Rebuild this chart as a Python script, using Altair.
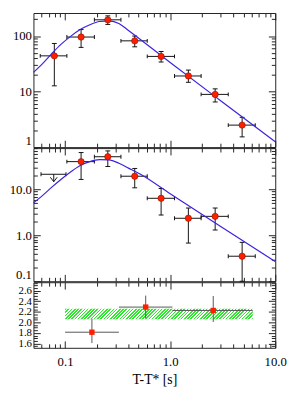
import altair as alt
import pandas as pd

FONT = "Liberation Serif"
W = 247
H_TOP, H_MID, H_BOT = 137, 136, 67
RED = "#ff1e00"
BLUE = "#3a22e0"
GREEN = "#2ee82e"
INK = "#111111"

# ---------------- data ----------------
# time bins (s)
t_mid = [0.079, 0.142, 0.255, 0.46, 0.82, 1.49, 2.68, 4.84]
t_lo = [0.058, 0.104, 0.19, 0.34, 0.605, 1.10, 1.97, 3.57]
t_hi = [0.104, 0.19, 0.34, 0.605, 1.10, 1.97, 3.57, 6.45]

# top panel
top_val = [44, 96, 196, 82, 43, 19.1, 8.9, 2.49]
top_lo = [12.7, 62.5, 162, 64, 34.2, 14.7, 6.5, 1.53]
top_hi = [73.6, 131, 231, 100, 52.5, 24.4, 11.2, 3.44]

# middle panel (first bin is an upper limit)
mid_t = [0.142, 0.255, 0.46, 0.82, 1.49, 2.68, 4.84]
mid_tlo = [0.104, 0.19, 0.34, 0.605, 1.10, 1.97, 3.57]
mid_thi = [0.19, 0.34, 0.605, 1.10, 1.97, 3.57, 6.45]
mid_val = [40.6, 51.9, 19.5, 6.44, 2.36, 2.6, 0.351]
mid_lo = [16.6, 31.8, 10.9, 2.77, 0.68, 1.31, 0.1]
mid_hi = [64, 69.5, 28.8, 10.5, 3.95, 3.95, 0.705]
ul_t = [0.078]
ul_tlo = [0.059]
ul_thi = [0.102]
ul_val = [21.5]
ul_tip = [14.8]

# model curves
curve_t = [0.05, 0.0598, 0.0739, 0.0913, 0.1128, 0.1394, 0.172, 0.213, 0.263,
           0.325, 0.401, 0.517, 1.0, 3.0, 10.0]
curve_top = [22.2, 30.7, 47.2, 70.7, 98.8, 131, 160, 183, 188, 169, 126, 87.5,
             33.5, 6.93, 1.25]
curve_mid = [5.15, 7.1, 11.0, 16.6, 24.1, 33.4, 40.6, 44.8, 44.2, 37.4, 29.3,
             21.7, 8.07, 1.58, 0.27]

# bottom panel
bot_t = [0.18, 0.585, 2.57]
bot_tlo = [0.1, 0.325, 1.05]
bot_thi = [0.325, 1.05, 6.1]
bot_val = [1.815, 2.29, 2.226]
bot_lo = [1.61, 2.084, 2.009]
bot_hi = [2.07, 2.507, 2.5]
band_t = [0.1]
band_t2 = [6.1]
band_lo = [2.06]
band_hi = [2.26]

# axis tick values / labels
x_ticks = [0.06, 0.07, 0.08, 0.09, 0.1, 0.2, 0.3, 0.4, 0.5, 0.6, 0.7, 0.8, 0.9,
           1, 2, 3, 4, 5, 6, 7, 8, 9, 10]
x_major = [0.1, 1, 10]
top_ticks = [1, 2, 3, 4, 5, 6, 7, 8, 9, 10, 20, 30, 40, 50, 60, 70, 80, 90, 100, 200]
top_major = [1, 10, 100]
mid_ticks = [0.1, 0.2, 0.3, 0.4, 0.5, 0.6, 0.7, 0.8, 0.9, 1, 2, 3, 4, 5, 6, 7, 8, 9,
             10, 20, 30, 40, 50, 60, 70, 80]
mid_major = [0.1, 1, 10]
bot_ticks = [1.55, 1.6, 1.65, 1.7, 1.75, 1.8, 1.85, 1.9, 1.95, 2.0, 2.05, 2.1, 2.15,
             2.2, 2.25, 2.3, 2.35, 2.4, 2.45, 2.5, 2.55, 2.6, 2.65, 2.7, 2.75]
bot_major = [1.6, 1.8, 2.0, 2.2, 2.4, 2.6]

# ---------------- helpers ----------------
xs = alt.Scale(type="log", domain=[0.05, 10], nice=False)


def X(field, axis=None):
    return alt.X(field, type="quantitative", scale=xs, axis=axis)


def make_Y(scale):
    def Y(field, axis=None):
        return alt.Y(field, type="quantitative", scale=scale, axis=axis)
    return Y


def tsize(majors, big=7, small=4):
    return {"condition": {"test": f"indexof({majors}, datum.value) >= 0", "value": big},
            "value": small}


def tick_axis(orient, offset, values, majors):
    return alt.Axis(orient=orient, offset=offset, values=values, labels=False,
                    domain=False, grid=False, ticks=True, tickSize=tsize(majors),
                    tickColor="#222222", tickWidth=1, title=None)


def ylabel_axis(values, fmt, size=13):
    return alt.Axis(orient="left", values=values, format=fmt, ticks=False,
                    domain=False, grid=False, labelPadding=2, labelFont=FONT,
                    labelFontSize=size, labelColor="black", labelFlush=True,
                    labelFlushOffset=0, labelOverlap=False, title=None)


def errbars(df, Y, color=INK, caps=True, xb=None, yl=None, xt=None, yr=None):
    base = alt.Chart(df)
    layers = [
        base.mark_rule(color=color, strokeWidth=1).encode(
            x=X("tlo", xb), x2="thi", y=Y("v", yl)),
        base.mark_rule(color=color, strokeWidth=1).encode(
            x=X("t", xt), y=Y("lo", yr), y2="hi"),
    ]
    if caps:
        for f in ["tlo", "thi"]:
            layers.append(base.mark_tick(orient="vertical", size=4, thickness=1,
                                         color=color, opacity=1).encode(
                x=X(f), y=Y("v")))
        for f in ["lo", "hi"]:
            layers.append(base.mark_tick(orient="horizontal", size=5, thickness=1,
                                         color=color, opacity=1).encode(
                x=X("t"), y=Y(f)))
    return layers


curve_df = pd.DataFrame({"t": curve_t, "top": curve_top, "mid": curve_mid})

# ---------------- top panel ----------------
Yt = make_Y(alt.Scale(type="log", domain=[1, 260], nice=False))
top_df = pd.DataFrame({"t": t_mid, "tlo": t_lo, "thi": t_hi,
                       "v": top_val, "lo": top_lo, "hi": top_hi})
top_layers = errbars(
    top_df, Yt,
    xb=tick_axis("bottom", -H_TOP, x_ticks, x_major),
    yl=tick_axis("right", -W, top_ticks, top_major),
    xt=tick_axis("top", -H_TOP, x_ticks, x_major),
    yr=tick_axis("left", -W, top_ticks, top_major),
)
top_curve = alt.Chart(curve_df).mark_line(color=BLUE, strokeWidth=1.2,
                                          interpolate="monotone").encode(
    x=X("t"), y=Yt("top", ylabel_axis(top_major, "d")))
top_pts = alt.Chart(top_df).mark_circle(size=42, color=RED, opacity=1,
                                        stroke="#6a1000", strokeWidth=0.5).encode(
    x=X("t"), y=Yt("v"))
top = alt.layer(*top_layers, top_curve, top_pts).properties(
    width=W, height=H_TOP).resolve_axis(x="independent", y="independent")

# ---------------- middle panel ----------------
Ym = make_Y(alt.Scale(type="log", domain=[0.1, 80], nice=False))
mid_df = pd.DataFrame({"t": mid_t, "tlo": mid_tlo, "thi": mid_thi,
                       "v": mid_val, "lo": mid_lo, "hi": mid_hi})
ul_df = pd.DataFrame({"t": ul_t, "tlo": ul_tlo, "thi": ul_thi, "v": ul_val,
                      "tip": ul_tip})
mid_layers = errbars(
    mid_df, Ym,
    xb=tick_axis("bottom", -H_MID, x_ticks, x_major),
    yl=tick_axis("right", -W, mid_ticks, mid_major),
    xt=tick_axis("top", -H_MID, x_ticks, x_major),
    yr=tick_axis("left", -W, mid_ticks, mid_major),
)
ul_base = alt.Chart(ul_df)
ul_layers = [
    ul_base.mark_rule(color=INK, strokeWidth=1).encode(x=X("tlo"), x2="thi", y=Ym("v")),
    ul_base.mark_tick(orient="vertical", size=4, thickness=1, color=INK,
                      opacity=1).encode(x=X("tlo"), y=Ym("v")),
    ul_base.mark_tick(orient="vertical", size=4, thickness=1, color=INK,
                      opacity=1).encode(x=X("thi"), y=Ym("v")),
    ul_base.mark_rule(color=INK, strokeWidth=1).encode(x=X("t"), y=Ym("v"), y2="tip"),
    ul_base.mark_point(shape="M-1,-1.3L0,0L1,-1.3", size=49, filled=False,
                       color=INK, strokeWidth=1, opacity=1).encode(
        x=X("t"), y=Ym("tip")),
]
mid_curve = alt.Chart(curve_df).mark_line(color=BLUE, strokeWidth=1.2,
                                          interpolate="monotone").encode(
    x=X("t"), y=Ym("mid", ylabel_axis(mid_major, ".1f")))
mid_pts = alt.Chart(mid_df).mark_circle(size=42, color=RED, opacity=1,
                                        stroke="#6a1000", strokeWidth=0.5).encode(
    x=X("t"), y=Ym("v"))
mid = alt.layer(*mid_layers, *ul_layers, mid_curve, mid_pts).properties(
    width=W, height=H_MID).resolve_axis(x="independent", y="independent")

# ---------------- bottom panel ----------------
Yb = make_Y(alt.Scale(type="linear", domain=[1.52, 2.76], nice=False, zero=False))
bot_df = pd.DataFrame({"t": bot_t, "tlo": bot_tlo, "thi": bot_thi,
                       "v": bot_val, "lo": bot_lo, "hi": bot_hi})
band_df = pd.DataFrame({"t": band_t, "t2": band_t2, "lo": band_lo, "hi": band_hi})

# diagonal hatch pattern as a striped gradient (style only)
n_str = 62
stops = []
for k in range(n_str):
    a, b, c = k / n_str, (k + 0.5) / n_str, (k + 1) / n_str
    stops += [alt.GradientStop(color=GREEN, offset=a),
              alt.GradientStop(color=GREEN, offset=b),
              alt.GradientStop(color="white", offset=b),
              alt.GradientStop(color="white", offset=c)]
hatch = alt.LinearGradient(gradient="linear", stops=stops, x1=0, y1=0, x2=1.06, y2=0.0598)

xlabel_axis = alt.Axis(orient="bottom", values=x_major, format=".1f", ticks=False,
                       domain=False, grid=False, labelPadding=8, labelFont=FONT,
                       labelFontSize=13, labelColor="black", labelFlush=False,
                       labelOverlap=False, title="T-T* [s]", titleFont=FONT,
                       titleFontSize=14, titleFontWeight="normal", titleColor="black",
                       titlePadding=4)

band = alt.Chart(band_df).mark_rect(fill=hatch, strokeWidth=0).encode(
    x=X("t", tick_axis("top", -H_BOT, x_ticks, x_major)), x2="t2",
    y=Yb("lo", ylabel_axis(bot_major, ".1f", size=11)), y2="hi")
bot_layers = errbars(
    bot_df, Yb, color="#555555", caps=False,
    xb=tick_axis("bottom", -H_BOT, x_ticks, x_major),
    yl=tick_axis("right", -W, bot_ticks, bot_major),
    xt=xlabel_axis,
    yr=tick_axis("left", -W, bot_ticks, bot_major),
)
bot_pts = alt.Chart(bot_df).mark_square(size=30, color=RED, opacity=1).encode(
    x=X("t"), y=Yb("v"))
bot = alt.layer(band, *bot_layers, bot_pts).properties(
    width=W, height=H_BOT).resolve_axis(x="independent", y="independent")

chart = alt.vconcat(top, mid, bot, spacing=1, bounds="flush").properties(
    padding={"left": 0, "right": 0, "top": 0, "bottom": 0}
).configure_view(stroke="#222222", strokeWidth=1).configure_axis(
    labelFont=FONT, titleFont=FONT)

chart.save("out.html", embed_options={"renderer": "svg", "actions": False})
